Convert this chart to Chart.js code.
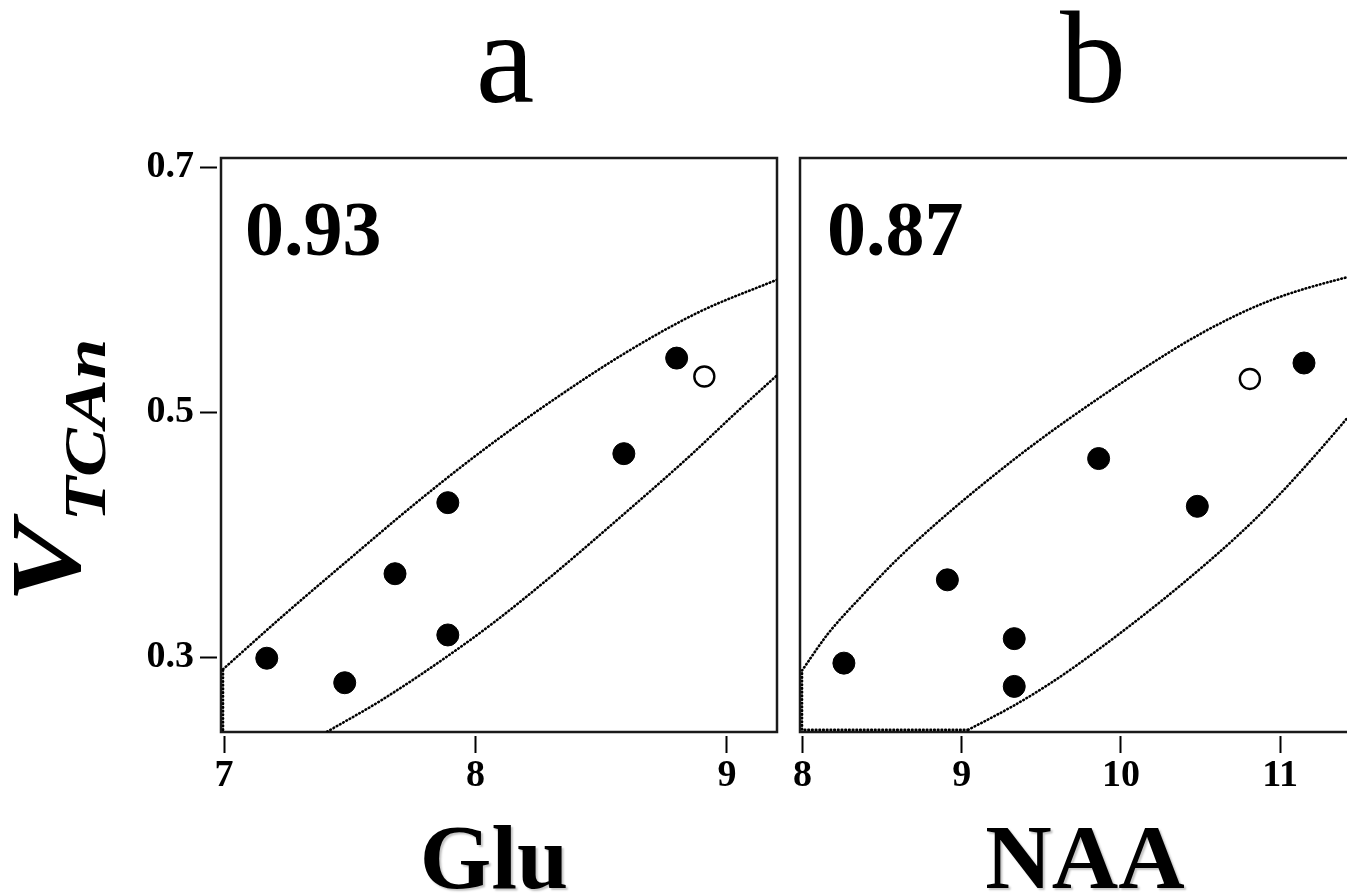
<!DOCTYPE html>
<html>
<head>
<meta charset="utf-8">
<script src="https://cdn.jsdelivr.net/npm/chart.js@4.4.1/dist/chart.umd.min.js"></script>
<style>
  html, body { margin: 0; padding: 0; background: #fff; }
  body { width: 1347px; height: 894px; overflow: hidden; position: relative; }
  canvas { position: absolute; top: 0; }
  .lbl { position: absolute; font-family: 'Liberation Serif', 'Times New Roman', serif; color: #000; line-height: 1; white-space: nowrap; }
  .big { font-size: 132px; font-weight: normal; transform: translateX(-50%); top: -8px; }
  .axis { font-size: 92px; font-weight: bold; transform: translateX(-50%); top: 811px; text-shadow: 2px 2px 2px #c4c4c4; }
  .corr { font-size: 78px; font-weight: bold; top: 190px; }
  #ytitle { left: -4px; top: 603px; font-size: 100px; font-weight: bold; font-style: italic; transform-origin: left top; transform: rotate(-90deg) scaleX(1.22); }
  #ytitle span { font-size: 60px; position: relative; top: 26px; }
</style>
</head>
<body>
<canvas id="chartA" width="790" height="894" style="left:0px"></canvas>
<canvas id="chartB" width="620" height="894" style="left:780px"></canvas>

<div class="lbl big" style="left:505px">a</div>
<div class="lbl big" style="left:1093px">b</div>
<div class="lbl axis" style="left:494px">Glu</div>
<div class="lbl axis" style="left:1085px">NAA</div>
<div class="lbl corr" style="left:245px">0.93</div>
<div class="lbl corr" style="left:827px">0.87</div>
<div class="lbl" id="ytitle">V<span>TCAn</span></div>

<script>
// tick values
var yTicks = [0.3, 0.5, 0.7];
var gluTicks = [7, 8, 9];
var naaTicks = [8, 9, 10, 11];

// panel a: Glu vs VTCAn (same subject order in both panels)
var gluFilled = [7.48, 7.17, 7.89, 7.68, 7.89, 8.59, 8.80];
var vtcaGluFilled = [0.279, 0.299, 0.318, 0.368, 0.426, 0.466, 0.544];
var gluOpen = [8.91];
var vtcaGluOpen = [0.529];

// panel b: NAA vs VTCAn
var naaFilled = [9.33, 8.26, 9.33, 8.91, 10.48, 9.86, 11.15];
var vtcaNaaFilled = [0.276, 0.295, 0.315, 0.363, 0.423, 0.462, 0.540];
var naaOpen = [10.81];
var vtcaNaaOpen = [0.527];

// dotted ellipse outlines (clipped to the frame)
var gluUpperX = [6.996, 7.231, 7.493, 7.759, 8.018, 8.296, 8.594, 8.893, 9.199];
var gluUpperY = [0.290, 0.333, 0.379, 0.425, 0.467, 0.508, 0.548, 0.582, 0.608];
var gluLowerX = [7.41, 7.628, 7.891, 8.078, 8.296, 8.575, 8.841, 9.044, 9.199];
var gluLowerY = [0.239, 0.265, 0.301, 0.329, 0.365, 0.414, 0.462, 0.501, 0.530];
var gluEdgeX = [6.996, 6.996];
var gluEdgeY = [0.2405, 0.290];

var naaUpperX = [7.997, 8.160, 8.374, 8.581, 8.788, 9.002, 9.209, 9.416, 9.680, 10.101, 10.516, 10.937, 11.42, 11.596];
var naaUpperY = [0.289, 0.319, 0.350, 0.378, 0.403, 0.427, 0.449, 0.470, 0.495, 0.532, 0.565, 0.591, 0.610, 0.615];
var naaLowerX = [9.04, 9.316, 9.523, 9.712, 10.057, 10.39, 10.729, 10.937, 11.144, 11.42, 11.596];
var naaLowerY = [0.2405, 0.2595, 0.2757, 0.2923, 0.3256, 0.3602, 0.3985, 0.4247, 0.4535, 0.4948, 0.5222];
var naaEdgeX = [9.04, 7.997, 7.997];
var naaEdgeY = [0.2405, 0.2405, 0.289];

var serif = 'Liberation Serif';

function pairs(xs, ys) {
  var out = [];
  for (var i = 0; i < xs.length; i++) out.push({x: xs[i], y: ys[i]});
  return out;
}

function fixTicks(values) {
  return function(scale) {
    scale.ticks = values.map(function(v) { return {value: v}; });
  };
}

var framePlugin = {
  id: 'frame',
  beforeDatasetsDraw: function(chart) {
    var a = chart.chartArea, ctx = chart.ctx;
    ctx.save();
    ctx.lineWidth = 2.5;
    ctx.strokeStyle = '#1a1a1a';
    ctx.strokeRect(a.left, a.top, a.right - a.left, a.bottom - a.top);
    ctx.restore();
  }
};

function dotted(xs, ys, smooth) {
  return {
    data: pairs(xs, ys),
    showLine: true,
    pointRadius: 0,
    borderColor: '#000',
    borderWidth: 2.6,
    borderDash: [0.6, 3.1],
    borderCapStyle: 'round',
    cubicInterpolationMode: smooth ? 'monotone' : 'default',
    tension: 0,
    fill: false
  };
}

function makeChart(id, p) {
  var ctx = document.getElementById(id).getContext('2d');
  return new Chart(ctx, {
    type: 'scatter',
    data: {
      datasets: [
        {data: pairs(p.fx, p.fy), pointRadius: 11, pointBackgroundColor: '#000', pointBorderColor: '#000', pointBorderWidth: 1},
        {data: pairs(p.ox, p.oy), pointRadius: 10, pointBackgroundColor: '#fff', pointBorderColor: '#000', pointBorderWidth: 2.4},
        dotted(p.ux, p.uy, true),
        dotted(p.lx, p.ly, true),
        dotted(p.ex, p.ey, false)
      ]
    },
    options: {
      responsive: false,
      animation: false,
      devicePixelRatio: 1,
      layout: { padding: p.pad },
      plugins: { legend: { display: false }, tooltip: { enabled: false } },
      scales: {
        x: {
          type: 'linear', min: p.xmin, max: p.xmax,
          afterBuildTicks: fixTicks(p.xticks),
          afterFit: function(s) { s.height = 60; },
          border: { display: false },
          grid: { drawOnChartArea: false, tickLength: 21, tickWidth: 2, tickColor: '#000',
                  tickBorderDash: [17, 4], tickBorderDashOffset: 17 },
          ticks: { color: '#000', padding: 0, maxRotation: 0, autoSkip: false,
                   font: { family: serif, size: 38, weight: 'bold' },
                   callback: function(v) { return String(v); } }
        },
        y: {
          type: 'linear', min: 0.23878, max: 0.70735,
          display: p.showY,
          afterBuildTicks: fixTicks(yTicks),
          afterFit: function(s) { s.width = p.showY ? 221 : 0; },
          border: { display: false },
          grid: { drawOnChartArea: false, tickLength: 21, tickWidth: 2, tickColor: '#000',
                  tickBorderDash: [17, 4] },
          ticks: { color: '#000', padding: 6, autoSkip: false,
                   font: { family: serif, size: 38, weight: 'bold' },
                   callback: function(v) { return v.toFixed(1); } }
        }
      }
    },
    plugins: [framePlugin]
  });
}

makeChart('chartA', {
  fx: gluFilled, fy: vtcaGluFilled, ox: gluOpen, oy: vtcaGluOpen,
  ux: gluUpperX, uy: gluUpperY, lx: gluLowerX, ly: gluLowerY, ex: gluEdgeX, ey: gluEdgeY,
  xmin: 6.988, xmax: 9.199, xticks: gluTicks, showY: true,
  pad: { top: 158, right: 13, bottom: 102, left: 0 }
});

makeChart('chartB', {
  fx: naaFilled, fy: vtcaNaaFilled, ox: naaOpen, oy: vtcaNaaOpen,
  ux: naaUpperX, uy: naaUpperY, lx: naaLowerX, ly: naaLowerY, ex: naaEdgeX, ey: naaEdgeY,
  xmin: 7.9843, xmax: 11.596, xticks: naaTicks, showY: false,
  pad: { top: 158, right: 25, bottom: 102, left: 20 }
});
</script>
</body>
</html>
